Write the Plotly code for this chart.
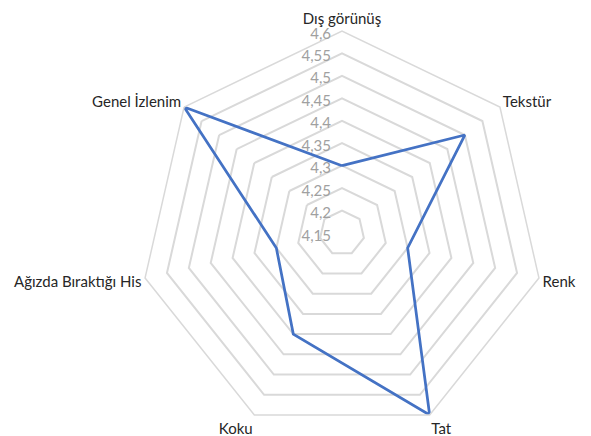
import plotly.graph_objects as go

categories = ["Dış görünüş", "Tekstür", "Renk", "Tat", "Koku", "Ağızda Bıraktığı His", "Genel İzlenim"]
values = [4.3, 4.5, 4.3, 4.6, 4.4, 4.3, 4.6]
tick_values = [4.15, 4.2, 4.25, 4.3, 4.35, 4.4, 4.45, 4.5, 4.55, 4.6]
tick_labels = ["4,15", "4,2", "4,25", "4,3", "4,35", "4,4", "4,45", "4,5", "4,55", "4,6"]

fig = go.Figure()
fig.add_trace(go.Scatterpolar(
    r=values + values[:1],
    theta=categories + categories[:1],
    mode="lines",
    line=dict(color="#4472C4", width=2.75),
    showlegend=False,
))

W, H = 591, 436
cx, cy, R = 342, 233, 202
fig.update_layout(
    width=W, height=H,
    margin=dict(l=0, r=0, t=0, b=0),
    paper_bgcolor="white",
    plot_bgcolor="white",
    font=dict(family="Lato", size=15, color="#262626"),
    polar=dict(
        domain=dict(x=[(cx - R) / W, (cx + R) / W], y=[1 - (cy + R) / H, 1 - (cy - R) / H]),
        bgcolor="white",
        gridshape="linear",
        radialaxis=dict(
            range=[4.15, 4.6],
            tickvals=tick_values,
            ticktext=tick_labels,
            angle=90,
            side="counterclockwise",
            showline=False,
            ticks="",
            gridcolor="#d9d9d9",
            gridwidth=1.5,
            tickfont=dict(family="Lato", size=15, color="#a0a0a0"),
        ),
        angularaxis=dict(
            direction="clockwise",
            rotation=90,
            showgrid=False,
            showline=True,
            linecolor="#d9d9d9",
            linewidth=1.5,
            ticks="",
            tickfont=dict(family="Lato", size=15, color="#262626"),
        ),
    ),
)

fig.write_html("out.html")
